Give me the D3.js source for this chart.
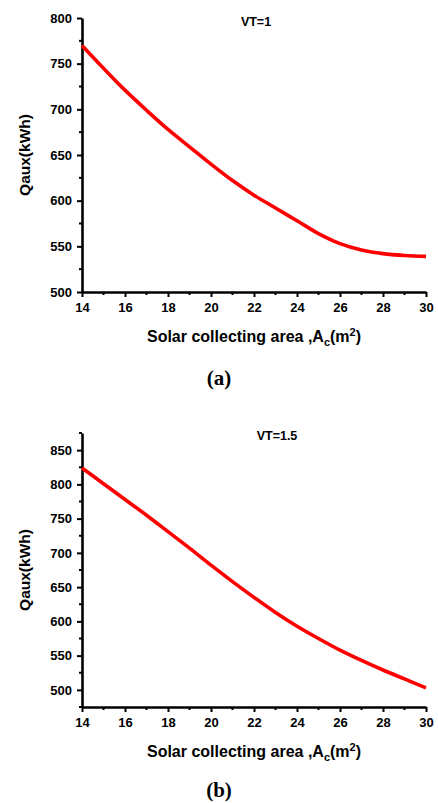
<!DOCTYPE html>
<html>
<head>
<meta charset="utf-8">
<script src="https://cdn.jsdelivr.net/npm/d3@7"></script>
<style>
  html, body { margin: 0; padding: 0; background: #fff; }
  svg { display: block; }
</style>
</head>
<body>
<svg id="chart" width="438" height="803"></svg>
<script>
// Collector area (m²)
const area = [14, 15, 16, 17, 18, 19, 20, 21, 22, 23, 24, 25, 26, 27, 28, 29, 30];
// Auxiliary energy Qaux (kWh), VT = 1
const qauxVT1 = [770, 745, 721, 699, 678, 659, 640, 622, 606, 592, 578, 564, 553, 546, 542, 540, 539];
// Auxiliary energy Qaux (kWh), VT = 1.5
const qauxVT15 = [824, 801, 778, 755, 731, 707, 682, 658, 635, 613, 593, 575, 558, 543, 529, 516, 503];

const xTicks = [14, 16, 18, 20, 22, 24, 26, 28, 30];
const yTicksA = [500, 550, 600, 650, 700, 750, 800];
const yTicksB = [500, 550, 600, 650, 700, 750, 800, 850];

const svg = d3.select("#chart");
const FONT = "'Liberation Sans', Arial, sans-serif";

function drawPanel(opt) {
  const g = svg.append("g");
  const x = d3.scaleLinear().domain([14, 30]).range([82, 426]);
  const y = d3.scaleLinear().domain(opt.yDomain).range(opt.yRange);

  // minor ticks
  const minorX = d3.range(15, 30, 2);
  const minorY = d3.range(opt.yDomain[0], opt.yDomain[1] + 0.1, 25).filter(v => v % 50 !== 0);

  const xAxis = g.append("g")
    .attr("transform", `translate(0,${opt.yRange[0]})`)
    .call(d3.axisBottom(x).tickValues(xTicks).tickSize(5).tickPadding(6).tickSizeOuter(0));
  xAxis.append("g").selectAll("line").data(minorX).join("line")
    .attr("x1", d => x(d)).attr("x2", d => x(d))
    .attr("y1", 0).attr("y2", 3)
    .attr("stroke", "#000").attr("stroke-width", 2);

  const yAxis = g.append("g")
    .attr("transform", "translate(82,0)")
    .call(d3.axisLeft(y).tickValues(opt.yTicks).tickSize(5).tickPadding(5).tickSizeOuter(0));
  yAxis.append("g").selectAll("line").data(minorY).join("line")
    .attr("y1", d => y(d)).attr("y2", d => y(d))
    .attr("x1", 0).attr("x2", -3)
    .attr("stroke", "#000").attr("stroke-width", 2);

  [xAxis, yAxis].forEach(a => {
    a.select(".domain").attr("stroke", "#000").attr("stroke-width", 2.6);
    a.selectAll(".tick line").attr("stroke", "#000").attr("stroke-width", 2);
    a.selectAll(".tick text")
      .attr("fill", "#000")
      .style("font-family", FONT)
      .style("font-weight", "bold")
      .style("font-size", "13px");
  });

  // series line
  const line = d3.line()
    .x((d, i) => x(area[i]))
    .y(d => y(d))
    .curve(d3.curveCatmullRom.alpha(0.5));
  g.append("path")
    .datum(opt.values)
    .attr("d", line)
    .attr("fill", "none")
    .attr("stroke", "#ff0000")
    .attr("stroke-width", 3.6);

  // panel label inside plot
  g.append("text")
    .attr("x", opt.vtX).attr("y", opt.vtY)
    .attr("text-anchor", "middle")
    .style("font-family", FONT).style("font-weight", "bold").style("font-size", "12.5px")
    .text(opt.vt);

  // y title
  const yMid = (opt.yRange[0] + opt.yRange[1]) / 2;
  g.append("text")
    .attr("transform", `translate(30,${yMid}) rotate(-90)`)
    .attr("text-anchor", "middle")
    .style("font-family", FONT).style("font-weight", "bold").style("font-size", "15.5px")
    .text("Qaux(kWh)");

  // x title with sub/superscript
  const xt = g.append("text")
    .attr("x", 254).attr("y", opt.yRange[0] + 50)
    .attr("text-anchor", "middle")
    .style("font-family", FONT).style("font-weight", "bold").style("font-size", "16px");
  xt.append("tspan").text("Solar collecting area ,A");
  xt.append("tspan").attr("dy", 4).style("font-size", "11px").text("c");
  xt.append("tspan").attr("dy", -4).text("(m");
  xt.append("tspan").attr("dy", -6).style("font-size", "11px").text("2");
  xt.append("tspan").attr("dy", 6).text(")");

  // caption
  g.append("text")
    .attr("x", 219).attr("y", opt.capY)
    .attr("text-anchor", "middle")
    .style("font-family", "'Liberation Serif', 'Times New Roman', serif")
    .style("font-weight", "bold").style("font-size", "21px")
    .text(opt.caption);
}

drawPanel({
  values: qauxVT1, yDomain: [500, 800], yRange: [292, 18], yTicks: yTicksA,
  vt: "VT=1", vtX: 256, vtY: 26, caption: "(a)", capY: 385
});
drawPanel({
  values: qauxVT15, yDomain: [475, 875], yRange: [707, 433], yTicks: yTicksB,
  vt: "VT=1.5", vtX: 277, vtY: 440, caption: "(b)", capY: 797
});
</script>
</body>
</html>
